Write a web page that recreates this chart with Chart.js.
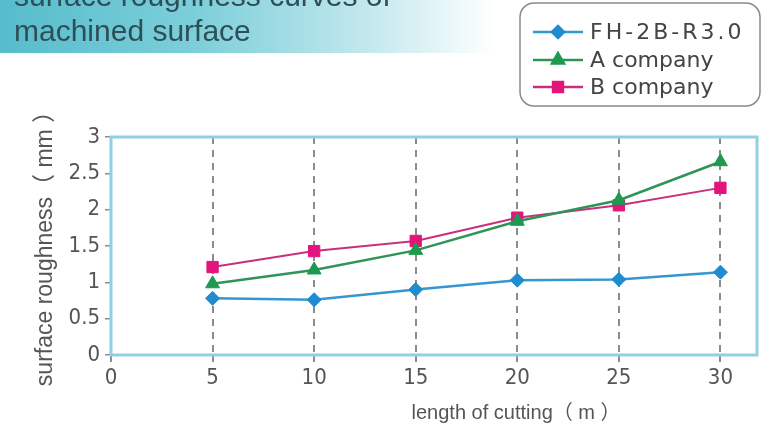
<!DOCTYPE html>
<html>
<head>
<meta charset="utf-8">
<script src="https://cdn.jsdelivr.net/npm/chart.js@4/dist/chart.umd.min.js"></script>
<style>
  html, body { margin: 0; padding: 0; background: #ffffff; }
  #wrap { position: relative; width: 766px; height: 431px; }
  canvas { display: block; }
</style>
</head>
<body>
<div id="wrap"><canvas id="c" width="766" height="431"></canvas></div>
<script>
// Cutting length (m) at each measurement
const cuttingLength = [5, 10, 15, 20, 25, 30];
// Surface roughness (mm) per tool
const fhValues = [0.78, 0.76, 0.90, 1.03, 1.04, 1.14];
const companyAValues = [0.98, 1.17, 1.44, 1.84, 2.13, 2.66];
const companyBValues = [1.21, 1.43, 1.57, 1.89, 2.06, 2.30];
const seriesNames = ['FH-2B-R3.0', 'A company', 'B company'];
const yTickLabels = ['0', '0.5', '1', '1.5', '2', '2.5', '3'];
const xTickLabels = ['0', '5', '10', '15', '20', '25', '30'];

const titleLines = ['surface roughness curves of', 'machined surface'];
const xTitle = 'length of cutting（ m ）';
const yTitle = 'surface roughness（ mm ）';

const TICK_FONT = '"Liberation Sans Narrow", "DejaVu Sans Condensed", "Liberation Sans", sans-serif';
const LABEL_FONT = '"Liberation Sans", Arial, "Noto Sans CJK SC", sans-serif';
const LEGEND_FONT = '"DejaVu Sans", "Liberation Sans", sans-serif';

const pairs = (vals) => cuttingLength.map((x, i) => ({ x: x, y: vals[i] }));

// Header band, legend box, plot frame and axis titles
const decorations = {
  id: 'decorations',
  beforeDraw(chart) {
    const ctx = chart.ctx;
    ctx.save();
    ctx.fillStyle = '#ffffff';
    ctx.fillRect(0, 0, chart.width, chart.height);
    const g = ctx.createLinearGradient(0, 0, 495, 0);
    g.addColorStop(0, '#56bccb');
    g.addColorStop(0.4, '#7dcfda');
    g.addColorStop(0.75, '#c4e9ee');
    g.addColorStop(1, 'rgba(255,255,255,1)');
    ctx.fillStyle = g;
    ctx.fillRect(0, 0, 495, 53);
    ctx.fillStyle = '#2f4f58';
    ctx.font = '30px ' + LABEL_FONT;
    ctx.textBaseline = 'alphabetic';
    ctx.textAlign = 'left';
    ctx.fillText(titleLines[0], 14, 6);
    ctx.fillText(titleLines[1], 14, 41);
    ctx.restore();
  },
  beforeDatasetsDraw(chart) {
    const ctx = chart.ctx;
    const a = chart.chartArea;
    ctx.save();
    ctx.strokeStyle = '#8fd0e3';
    ctx.lineWidth = 3;
    ctx.strokeRect(a.left, a.top, a.right - a.left, a.bottom - a.top);
    ctx.restore();
  },
  afterDraw(chart) {
    const ctx = chart.ctx;
    const a = chart.chartArea;
    ctx.save();
    // axis titles
    ctx.fillStyle = '#555555';
    ctx.textAlign = 'center';
    ctx.textBaseline = 'middle';
    ctx.font = '20px ' + LABEL_FONT;
    ctx.fillText(xTitle, a.left + (a.right - a.left) * 0.627, 413);
    ctx.font = '23px ' + LABEL_FONT;
    ctx.translate(46, (a.top + a.bottom) / 2 - 3);
    ctx.rotate(-Math.PI / 2);
    ctx.fillText(yTitle, 0, 0);
    ctx.restore();

    // legend
    ctx.save();
    const bx = 520, by = 3, bw = 240, bh = 103, r = 14;
    ctx.beginPath();
    ctx.roundRect(bx, by, bw, bh, r);
    ctx.fillStyle = '#ffffff';
    ctx.fill();
    ctx.strokeStyle = '#8a8a8a';
    ctx.lineWidth = 1.5;
    ctx.stroke();
    const rows = [32, 60, 87];
    chart.data.datasets.forEach((ds, i) => {
      const y = rows[i];
      ctx.strokeStyle = ds.borderColor;
      ctx.lineWidth = 2.5;
      ctx.beginPath();
      ctx.moveTo(533, y);
      ctx.lineTo(583, y);
      ctx.stroke();
      ctx.fillStyle = ds.pointBackgroundColor;
      ctx.strokeStyle = ds.pointBackgroundColor;
      Chart.helpers.drawPoint(ctx, {
        pointStyle: ds.pointStyle,
        radius: ds.pointRadius - 1,
        rotation: 0,
        borderWidth: 1
      }, 558, y);
      ctx.fillStyle = '#444444';
      ctx.font = '22px ' + LEGEND_FONT;
      ctx.textAlign = 'left';
      ctx.textBaseline = 'middle';
      ctx.letterSpacing = i === 0 ? '3px' : '0px';
      ctx.fillText(ds.label, 590, y + 1);
    });
    ctx.restore();
  }
};

const baseDataset = {
  borderWidth: 2.5,
  pointBorderWidth: 1,
  fill: false,
  tension: 0
};

new Chart(document.getElementById('c'), {
  type: 'line',
  data: {
    datasets: [
      Object.assign({}, baseDataset, {
        label: seriesNames[0],
        data: pairs(fhValues),
        borderColor: '#3497cf',
        pointBackgroundColor: '#1f8bd0',
        pointBorderColor: '#1f8bd0',
        pointStyle: 'rectRot',
        pointRadius: 7
      }),
      Object.assign({}, baseDataset, {
        label: seriesNames[1],
        data: pairs(companyAValues),
        borderColor: '#2f9457',
        pointBackgroundColor: '#1d9a4f',
        pointBorderColor: '#1d9a4f',
        pointStyle: 'triangle',
        pointRadius: 8
      }),
      Object.assign({}, baseDataset, {
        label: seriesNames[2],
        data: pairs(companyBValues),
        borderColor: '#c8307c',
        pointBackgroundColor: '#e3157c',
        pointBorderColor: '#e3157c',
        pointStyle: 'rect',
        pointRadius: 8,
        borderWidth: 2
      })
    ]
  },
  options: {
    responsive: false,
    animation: false,
    devicePixelRatio: 1,
    layout: { padding: { top: 137, right: 8, left: 0, bottom: 0 } },
    plugins: {
      legend: { display: false },
      title: { display: false },
      tooltip: { enabled: false }
    },
    scales: {
      x: {
        type: 'linear',
        min: 0,
        max: 31.8,
        afterBuildTicks(scale) {
          scale.ticks = xTickLabels.map(t => ({ value: Number(t) }));
        },
        afterFit(scale) { scale.height = 76; },
        border: { display: false, dash: [7, 6] },
        grid: {
          drawOnChartArea: true,
          drawTicks: true,
          tickLength: 7,
          lineWidth: 2,
          color: (c) => (c.tick && c.tick.value === 0) ? 'rgba(0,0,0,0)' : '#8c8c8c',
          tickColor: '#8c8c8c',
          tickBorderDash: []
        },
        ticks: {
          padding: 3,
          color: '#555555',
          font: { family: TICK_FONT, size: 22 },
          maxRotation: 0,
          callback: (v) => String(v)
        }
      },
      y: {
        type: 'linear',
        min: 0,
        max: 3,
        afterBuildTicks(scale) {
          scale.ticks = yTickLabels.map(t => ({ value: Number(t) }));
        },
        afterFit(scale) { scale.width = 111; },
        border: { display: false },
        grid: {
          drawOnChartArea: false,
          drawTicks: true,
          tickLength: 6,
          tickColor: '#8c8c8c',
          lineWidth: 1.5
        },
        ticks: {
          padding: 5,
          color: '#555555',
          font: { family: TICK_FONT, size: 22 },
          callback: (v) => String(v)
        }
      }
    }
  },
  plugins: [decorations]
});
</script>
</body>
</html>
